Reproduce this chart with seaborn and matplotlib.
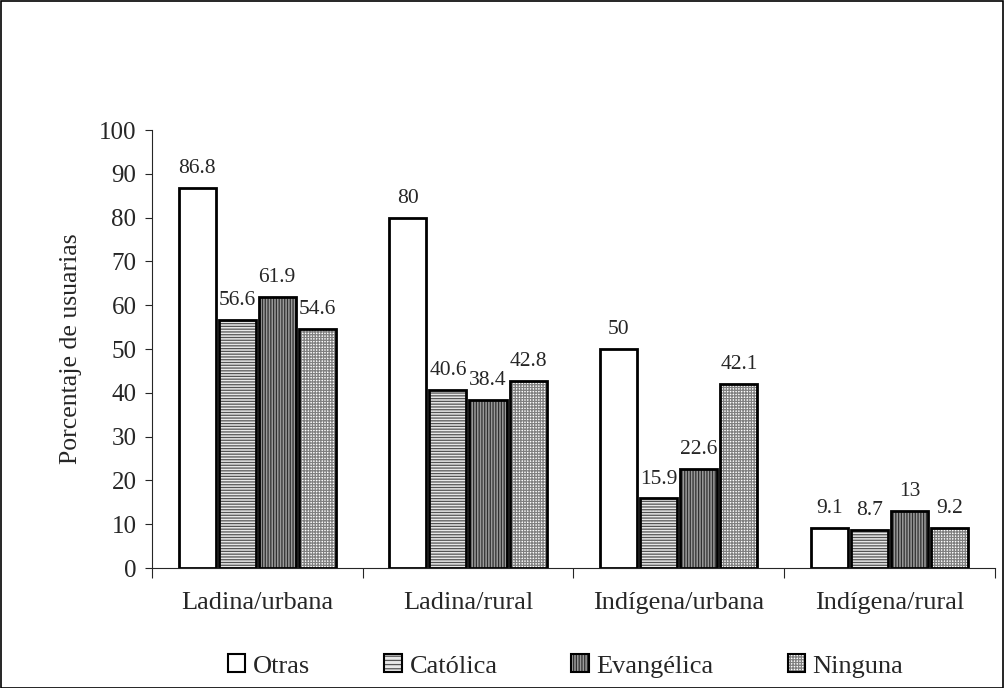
import numpy as np
import pandas as pd
import matplotlib
matplotlib.use("Agg")
import matplotlib.pyplot as plt
import seaborn as sns
from matplotlib.patches import Rectangle, Patch

grupos = ["Ladina/urbana", "Ladina/rural", "Indígena/urbana", "Indígena/rural"]
religiones = ["Otras", "Católica", "Evangélica", "Ninguna"]
otras = [86.8, 80, 50, 9.1]
catolica = [56.6, 40.6, 15.9, 8.7]
evangelica = [61.9, 38.4, 22.6, 13]
ninguna = [54.6, 42.8, 42.1, 9.2]

df = pd.DataFrame({
    "grupo": grupos * 4,
    "religion": np.repeat(religiones, 4),
    "valor": otras + catolica + evangelica + ninguna,
})

sns.set_style("ticks")
plt.rcParams["font.family"] = ["Liberation Serif", "DejaVu Serif"]
plt.rcParams["hatch.linewidth"] = 0.9

fig = plt.figure(figsize=(10.05, 6.88), dpi=100)
ax = fig.add_axes([0.151, 0.1744, 0.839, 0.6366])

sns.barplot(data=df, x="grupo", y="valor", hue="religion", order=grupos,
            hue_order=religiones, width=0.76, gap=0.075, ax=ax, legend=False)

# estilos: fondo, trama, color de trama
estilos = {
    "Otras": ("white", "", "black"),
    "Católica": ("#e8e8e8", "------", "#555555"),
    "Evangélica": ("#9a9a9a", "||||||", "#303030"),
    "Ninguna": ("white", "++++++", "#808080"),
}

for cont, rel in zip(ax.containers, religiones):
    fc, hatch, hc = estilos[rel]
    for p in cont:
        p.set_facecolor(fc)
        p.set_edgecolor("black")
        p.set_linewidth(2)
        p.set_hatch(hatch)
        p._hatch_color = matplotlib.colors.to_rgba(hc)
    ax.bar_label(cont, labels=[f"{v:g}" for v in cont.datavalues],
                 padding=7, fontsize=15.5)

ax.set_ylim(0, 100)
ax.set_yticks(range(0, 101, 10))
ax.set_xlim(-0.5, 3.5)
ax.set_xticks([-0.5, 0.5, 1.5, 2.5, 3.5])
ax.set_xticklabels([])
ax.set_xticks(range(4), minor=True)
ax.set_xticklabels(grupos, minor=True, fontsize=19)
ax.tick_params(axis="x", which="minor", length=0, pad=17)
ax.tick_params(axis="x", which="major", length=7, width=0.8)
ax.tick_params(axis="y", length=5, width=0.8, labelsize=18, pad=6)
ax.set_xlabel("")
ax.set_ylabel("Porcentaje de usuarias", fontsize=18.5, labelpad=12)
for s in ["top", "right"]:
    ax.spines[s].set_visible(False)
ax.spines["left"].set_linewidth(0.8)
ax.spines["bottom"].set_linewidth(0.8)

handles = []
for rel in religiones:
    fc, hatch, hc = estilos[rel]
    h = Patch(facecolor=fc, edgecolor="black", hatch=hatch.replace("------", "----"), linewidth=1.5)
    h._hatch_color = matplotlib.colors.to_rgba(hc)
    handles.append(h)
fig.legend(handles, religiones, loc="center", bbox_to_anchor=(0.563, 0.032), ncol=4,
           frameon=False, fontsize=19, handlelength=0.65, handleheight=0.65,
           handletextpad=0.3, columnspacing=2.8)

fig.patches.append(Rectangle((0.0005, 0.0007), 0.998, 0.998, transform=fig.transFigure,
                             fill=False, edgecolor="black", linewidth=1.2))

fig.savefig("out.png", dpi=100)
